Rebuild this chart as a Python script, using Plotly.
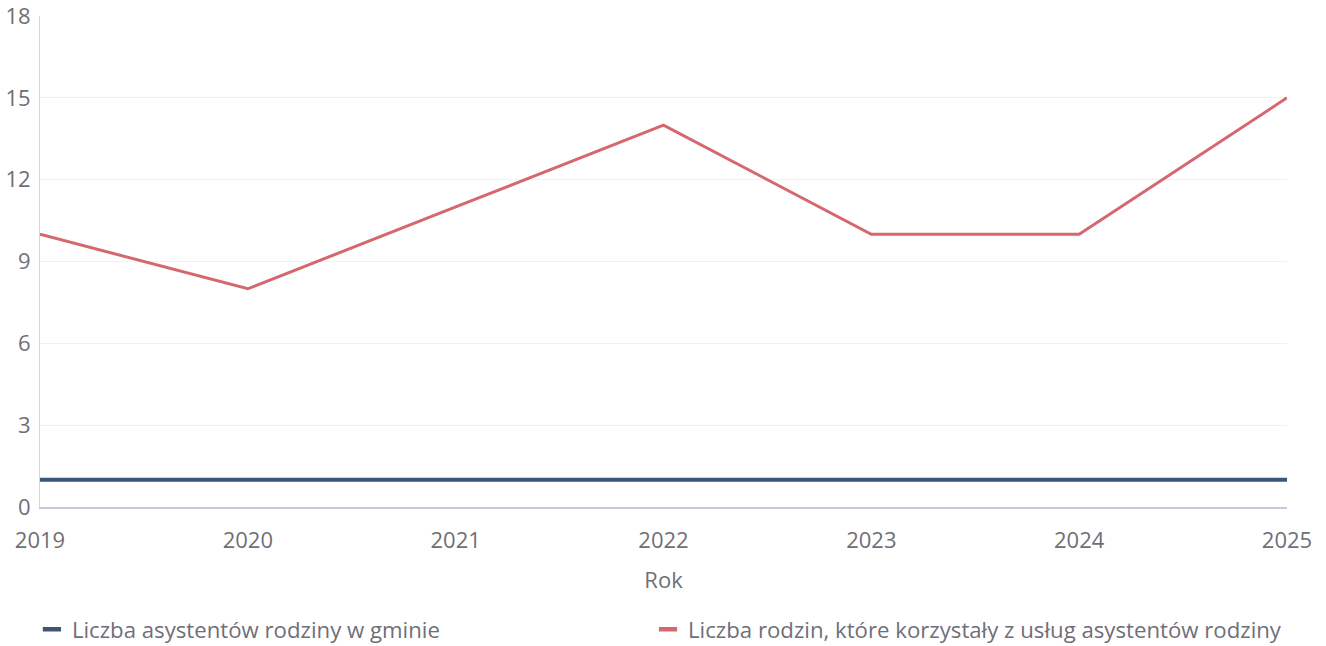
import plotly.graph_objects as go

years = [2019, 2020, 2021, 2022, 2023, 2024, 2025]
asystenci = [1, 1, 1, 1, 1, 1, 1]
rodziny = [10, 8, 11, 14, 10, 10, 15]
name_a = "Liczba asystentów rodziny w gminie"
name_r = "Liczba rodzin, które korzystały z usług asystentów rodziny"
col_a = "#3e5675"
col_r = "#d5686e"
txt = "#6f6f78"

fig = go.Figure()
fig.add_trace(go.Scatter(x=years, y=asystenci, mode="lines", line=dict(color=col_a, width=4),
                         name=name_a, showlegend=False))
fig.add_trace(go.Scatter(x=years, y=rodziny, mode="lines", line=dict(color=col_r, width=3),
                         name=name_r, showlegend=False))
fig.add_trace(go.Scatter(x=[None], y=[None], mode="markers", name=name_a, legend="legend",
                         marker=dict(symbol="line-ew", size=13, line=dict(width=4.5, color=col_a), color=col_a)))
fig.add_trace(go.Scatter(x=[None], y=[None], mode="markers", name=name_r, legend="legend2",
                         marker=dict(symbol="line-ew", size=13, line=dict(width=4.5, color=col_r), color=col_r)))

font = "Open Sans"
leg_common = dict(orientation="h", y=-0.249, yanchor="middle", xanchor="left",
                  font=dict(size=22.2, color=txt), itemclick=False, bgcolor="rgba(0,0,0,0)")
fig.update_layout(
    width=1326, height=646,
    margin=dict(l=40, r=39, t=16, b=139, autoexpand=False),
    paper_bgcolor="white", plot_bgcolor="white",
    font=dict(family=font, size=22, color=txt),
    legend=dict(x=-0.0065, **leg_common),
    legend2=dict(x=0.4876, **leg_common),
    showlegend=True,
)
fig.update_xaxes(range=[2019, 2025], tickvals=years, ticktext=[str(y) for y in years],
                 showgrid=False, showline=True, linecolor="#c8c6dc", linewidth=1.5,
                 ticks="", ticklabelstandoff=13, ticklabeloverflow="allow",
                 tickfont=dict(size=22, color=txt),
                 title=dict(text="Rok", font=dict(size=22, color=txt), standoff=19),
                 zeroline=False, automargin=False)
fig.update_yaxes(range=[0, 18], tickvals=[0, 3, 6, 9, 12, 15, 18],
                 showgrid=True, gridcolor="#f1f1f4", gridwidth=1,
                 showline=True, linecolor="#d6d4e4", linewidth=1,
                 ticks="", ticklabelstandoff=4, ticklabeloverflow="allow",
                 tickfont=dict(size=22, color=txt),
                 zeroline=False, automargin=False)

fig.write_html("out.html", config={"displayModeBar": False},
               post_script="document.body.style.margin='0';")
